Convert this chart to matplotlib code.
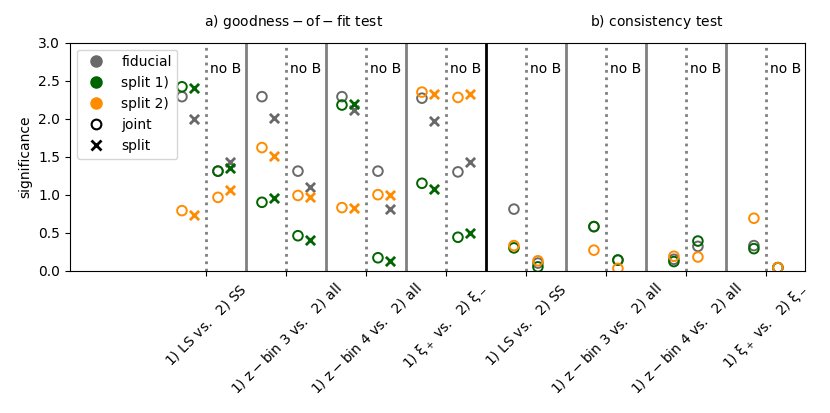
import matplotlib
matplotlib.use('Agg')
import matplotlib.pyplot as plt
from matplotlib.lines import Line2D
import numpy as np

# tick labels (same four splits for both tests)
splits = [r'$\rm{1)\ LS\ vs.\ \ 2)\ SS}$',
          r'$\rm{1)\ z-bin\ 3\ vs.\ \ 2)\ all}$',
          r'$\rm{1)\ z-bin\ 4\ vs.\ \ 2)\ all}$',
          r'$\rm{1)\ \xi_+\ vs.\ \ 2)\ \xi_-}$']

# goodness-of-fit, with B modes
gof_joint_fid_B = [2.29, 2.29, 2.29, 2.27]
gof_joint_s1_B = [2.42, 0.90, 2.18, 1.15]
gof_joint_s2_B = [0.79, 1.62, 0.83, 2.35]
gof_split_fid_B = [2.00, 2.01, 2.12, 1.97]
gof_split_s1_B = [2.41, 0.95, 2.19, 1.07]
gof_split_s2_B = [0.73, 1.51, 0.82, 2.32]
# goodness-of-fit, no B modes
gof_joint_fid_noB = [1.31, 1.31, 1.31, 1.30]
gof_joint_s1_noB = [1.31, 0.46, 0.17, 0.44]
gof_joint_s2_noB = [0.965, 0.99, 1.00, 2.28]
gof_split_fid_noB = [1.43, 1.105, 0.81, 1.43]
gof_split_s1_noB = [1.355, 0.41, 0.13, 0.50]
gof_split_s2_noB = [1.06, 0.965, 0.99, 2.32]

# consistency test
cons_fid_B = [0.81, 0.58, 0.15, 0.33]
cons_s1_B = [0.30, 0.58, 0.12, 0.29]
cons_s2_B = [0.33, 0.27, 0.19, 0.69]
cons_fid_noB = [0.10, 0.14, 0.32, 0.04]
cons_s1_noB = [0.05, 0.14, 0.39, 0.04]
cons_s2_noB = [0.13, 0.03, 0.18, 0.04]

c_fid = 'dimgray'
c_s1 = 'darkgreen'
c_s2 = 'darkorange'

fig = plt.figure(figsize=(8.3, 4.13), dpi=100)
ax = fig.add_axes([0.0843, 0.3446, 0.8857, 0.552])

xg = np.arange(4)
xc = np.arange(4) + 4

def circ(x, y, c):
    ax.scatter(x, y, s=48, facecolors='none', edgecolors=c, linewidths=1.4, zorder=3)

def cross(x, y, c):
    ax.scatter(x, y, s=44, marker='x', color=c, linewidths=2, zorder=3)

for cols, vals in [(c_fid, (gof_joint_fid_B, gof_split_fid_B, gof_joint_fid_noB, gof_split_fid_noB)),
                   (c_s1, (gof_joint_s1_B, gof_split_s1_B, gof_joint_s1_noB, gof_split_s1_noB)),
                   (c_s2, (gof_joint_s2_B, gof_split_s2_B, gof_joint_s2_noB, gof_split_s2_noB))]:
    circ(xg - 0.3, vals[0], cols)
    cross(xg - 0.15, vals[1], cols)
    circ(xg + 0.15, vals[2], cols)
    cross(xg + 0.3, vals[3], cols)

for cols, vals in [(c_fid, (cons_fid_B, cons_fid_noB)),
                   (c_s1, (cons_s1_B, cons_s1_noB)),
                   (c_s2, (cons_s2_B, cons_s2_noB))]:
    circ(xc - 0.15, vals[0], cols)
    circ(xc + 0.15, vals[1], cols)

# separators
for i in range(8):
    ax.axvline(i, color='gray', ls=':', lw=2, zorder=1)
    ax.text(i + 0.05, 2.6, 'no B', fontsize=10)
for i in [0.5, 1.5, 2.5, 4.5, 5.5, 6.5]:
    ax.axvline(i, color='gray', lw=2, zorder=1)
ax.axvline(3.5, color='black', lw=2, zorder=1)

ax.text(1.09, 3.27, r'$\rm{a)\ goodness-of-fit\ test}$', ha='center', va='center', fontsize=10)
ax.text(5.64, 3.27, r'$\rm{b)\ consistency\ test}$', ha='center', va='center', fontsize=10)

ax.set_xlim(-1.7, 7.49)
ax.set_ylim(0, 3)
ax.set_xticks(np.arange(8))
ax.set_xticklabels(splits * 2, rotation=45, ha='center')
ax.set_ylabel('significance')

handles = [Line2D([], [], marker='o', ls='', color=c_fid, markersize=8),
           Line2D([], [], marker='o', ls='', color=c_s1, markersize=8),
           Line2D([], [], marker='o', ls='', color=c_s2, markersize=8),
           Line2D([], [], marker='o', ls='', markerfacecolor='none', markeredgecolor='k', markeredgewidth=1.5, markersize=7),
           Line2D([], [], marker='x', ls='', color='k', markeredgewidth=2, markersize=7)]
ax.legend(handles, ['fiducial', 'split 1)', 'split 2)', 'joint', 'split'], loc='upper left')

fig.savefig('out.png', dpi=100)
